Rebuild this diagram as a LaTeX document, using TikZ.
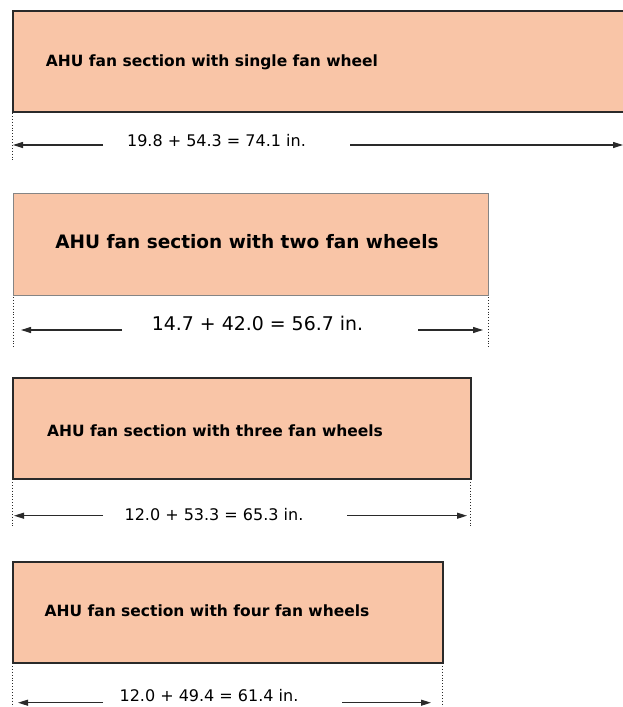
\documentclass[tikz,border=0pt]{standalone}
\usepackage{fontspec}
\setmainfont{DejaVu Sans}
\usetikzlibrary{arrows.meta}
\definecolor{peach}{HTML}{F9C5A7}
\definecolor{darkline}{HTML}{2A2A2A}
\definecolor{grayline}{HTML}{858585}
\tikzset{
  box/.style={draw=darkline, line width=1.5pt, fill=peach, anchor=north west, inner sep=0pt},
  graybox/.style={box, draw=grayline, line width=1.2pt},
  title/.style={anchor=base, inner sep=0pt, font=\bfseries\fontsize{15.5}{18}\selectfont},
  dimtext/.style={anchor=base, inner sep=0pt, font=\fontsize{16}{19}\selectfont},
  dimarrow/.style={draw=darkline, line width=1.1pt, -{Triangle[length=10pt,width=6pt]}},
  ext/.style={draw=darkline, line width=0.9pt, dotted}
}
\begin{document}
\begin{tikzpicture}[x=1pt,y=-1pt]
\useasboundingbox (0,0) rectangle (623,707);

% Box 1
\node[box, minimum width=620pt, minimum height=101pt] (b1) at (12,10) {};
\node[title] (t1) at (212,66) {AHU fan section with single fan wheel};
\node[dimtext] (d1) at (216.5,146.7) {19.8 + 54.3 = 74.1 in.};
\coordinate (e1a) at (12,113); \coordinate (e1b) at (12,160);
\draw[ext] (e1a) -- (e1b);
\coordinate (l1s) at (103,145); \coordinate (l1e) at (13,145);
\coordinate (r1s) at (350,145); \coordinate (r1e) at (623,145);
\draw[dimarrow] (l1s) -- (l1e);
\draw[dimarrow] (r1s) -- (r1e);

% Box 2
\node[graybox, minimum width=475pt, minimum height=102pt] (b2) at (13,193) {};
\node[title, font=\bfseries\fontsize{18.5}{22}\selectfont] (t2) at (247,248.3) {AHU fan section with two fan wheels};
\node[dimtext, font=\fontsize{18.9}{22}\selectfont] (d2) at (257.5,330) {14.7 + 42.0 = 56.7 in.};
\coordinate (e2a) at (13,297); \coordinate (e2b) at (13,347);
\coordinate (e2c) at (488,297); \coordinate (e2d) at (488,347);
\draw[ext] (e2a) -- (e2b);
\draw[ext] (e2c) -- (e2d);
\coordinate (l2s) at (122,330); \coordinate (l2e) at (21,330);
\coordinate (r2s) at (418,330); \coordinate (r2e) at (483,330);
\draw[dimarrow] (l2s) -- (l2e);
\draw[dimarrow] (r2s) -- (r2e);

% Box 3
\node[box, minimum width=458pt, minimum height=101pt] (b3) at (12,377) {};
\node[title] (t3) at (215,436) {AHU fan section with three fan wheels};
\node[dimtext] (d3) at (214,520) {12.0 + 53.3 = 65.3 in.};
\coordinate (e3a) at (12,479); \coordinate (e3b) at (12,528);
\coordinate (e3c) at (470,479); \coordinate (e3d) at (470,528);
\draw[ext] (e3a) -- (e3b);
\draw[ext] (e3c) -- (e3d);
\coordinate (l3s) at (103,515.7); \coordinate (l3e) at (14,515.7);
\coordinate (r3s) at (347,515.7); \coordinate (r3e) at (467,515.7);
\draw[dimarrow] (l3s) -- (l3e);
\draw[dimarrow] (r3s) -- (r3e);

% Box 4
\node[box, minimum width=430pt, minimum height=101pt] (b4) at (12,561) {};
\node[title] (t4) at (207,616.7) {AHU fan section with four fan wheels};
\node[dimtext] (d4) at (209,701.7) {12.0 + 49.4 = 61.4 in.};
\coordinate (e4a) at (12,663); \coordinate (e4b) at (12,707);
\coordinate (e4c) at (442,663); \coordinate (e4d) at (442,707);
\draw[ext] (e4a) -- (e4b);
\draw[ext] (e4c) -- (e4d);
\coordinate (l4s) at (103,702.7); \coordinate (l4e) at (18,702.7);
\coordinate (r4s) at (342,702.7); \coordinate (r4e) at (431,702.7);
\draw[dimarrow] (l4s) -- (l4e);
\draw[dimarrow] (r4s) -- (r4e);
\end{tikzpicture}
\end{document}
